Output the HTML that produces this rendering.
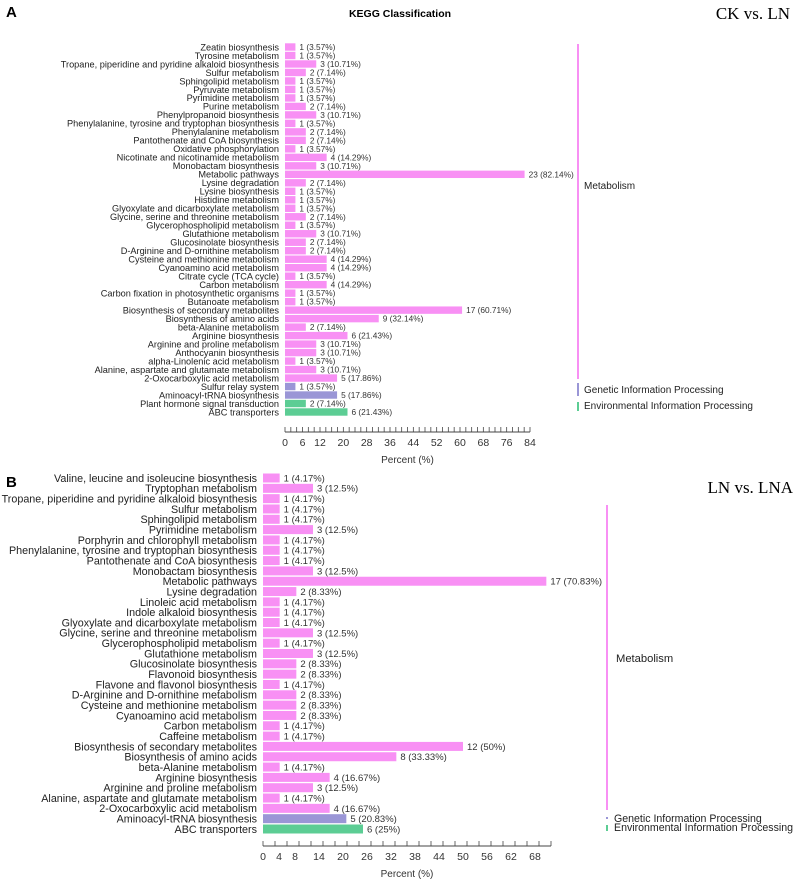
<!DOCTYPE html>
<html><head><meta charset="utf-8"><style>
body{margin:0;background:#fff}
svg{display:block;font-family:"Liberation Sans",sans-serif}
</style></head><body>
<svg id="c" width="796" height="885" viewBox="0 0 796 885">
<text x="6" y="17" font-size="15" font-weight="bold">A</text>
<text x="400" y="17" font-size="10.5" font-weight="bold" text-anchor="middle">KEGG Classification</text>
<text x="790" y="19" font-size="17" font-family="Liberation Serif,serif" text-anchor="end">CK vs. LN</text>
<text x="6" y="487" font-size="15" font-weight="bold">B</text>
<text x="793" y="493" font-size="17" font-family="Liberation Serif,serif" text-anchor="end">LN vs. LNA</text>
</svg>
<script>
const catsA=["Zeatin biosynthesis","Tyrosine metabolism","Tropane, piperidine and pyridine alkaloid biosynthesis","Sulfur metabolism","Sphingolipid metabolism","Pyruvate metabolism","Pyrimidine metabolism","Purine metabolism","Phenylpropanoid biosynthesis","Phenylalanine, tyrosine and tryptophan biosynthesis","Phenylalanine metabolism","Pantothenate and CoA biosynthesis","Oxidative phosphorylation","Nicotinate and nicotinamide metabolism","Monobactam biosynthesis","Metabolic pathways","Lysine degradation","Lysine biosynthesis","Histidine metabolism","Glyoxylate and dicarboxylate metabolism","Glycine, serine and threonine metabolism","Glycerophospholipid metabolism","Glutathione metabolism","Glucosinolate biosynthesis","D-Arginine and D-ornithine metabolism","Cysteine and methionine metabolism","Cyanoamino acid metabolism","Citrate cycle (TCA cycle)","Carbon metabolism","Carbon fixation in photosynthetic organisms","Butanoate metabolism","Biosynthesis of secondary metabolites","Biosynthesis of amino acids","beta-Alanine metabolism","Arginine biosynthesis","Arginine and proline metabolism","Anthocyanin biosynthesis","alpha-Linolenic acid metabolism","Alanine, aspartate and glutamate metabolism","2-Oxocarboxylic acid metabolism","Sulfur relay system","Aminoacyl-tRNA biosynthesis","Plant hormone signal transduction","ABC transporters"];
const countsA=[1,1,3,2,1,1,1,2,3,1,2,2,1,4,3,23,2,1,1,1,2,1,3,2,2,4,4,1,4,1,1,17,9,2,6,3,3,1,3,5,1,5,2,6];
const groupsA=["M","M","M","M","M","M","M","M","M","M","M","M","M","M","M","M","M","M","M","M","M","M","M","M","M","M","M","M","M","M","M","M","M","M","M","M","M","M","M","M","G","G","E","E"];
const totalA=28;
const ticksA=[0,6,12,20,28,36,44,52,60,68,76,84];

const catsB=["Valine, leucine and isoleucine biosynthesis","Tryptophan metabolism","Tropane, piperidine and pyridine alkaloid biosynthesis","Sulfur metabolism","Sphingolipid metabolism","Pyrimidine metabolism","Porphyrin and chlorophyll metabolism","Phenylalanine, tyrosine and tryptophan biosynthesis","Pantothenate and CoA biosynthesis","Monobactam biosynthesis","Metabolic pathways","Lysine degradation","Linoleic acid metabolism","Indole alkaloid biosynthesis","Glyoxylate and dicarboxylate metabolism","Glycine, serine and threonine metabolism","Glycerophospholipid metabolism","Glutathione metabolism","Glucosinolate biosynthesis","Flavonoid biosynthesis","Flavone and flavonol biosynthesis","D-Arginine and D-ornithine metabolism","Cysteine and methionine metabolism","Cyanoamino acid metabolism","Carbon metabolism","Caffeine metabolism","Biosynthesis of secondary metabolites","Biosynthesis of amino acids","beta-Alanine metabolism","Arginine biosynthesis","Arginine and proline metabolism","Alanine, aspartate and glutamate metabolism","2-Oxocarboxylic acid metabolism","Aminoacyl-tRNA biosynthesis","ABC transporters"];
const countsB=[1,3,1,1,1,3,1,1,1,3,17,2,1,1,1,3,1,3,2,2,1,2,2,2,1,1,12,8,1,4,3,1,4,5,6];
const groupsB=["M","M","M","M","M","M","M","M","M","M","M","M","M","M","M","M","M","M","M","M","M","M","M","M","M","M","M","M","M","M","M","M","M","G","E"];
const totalB=24;
const ticksB=[0,4,8,14,20,26,32,38,44,50,56,62,68];

const colors={M:"#f890f4",G:"#9a96d6",E:"#5ccd94"};
const NS="http://www.w3.org/2000/svg";
const svg=document.getElementById('c');
function mk(tag,attrs,parent){const e=document.createElementNS(NS,tag);for(const k in attrs)e.setAttribute(k,attrs[k]);(parent||svg).appendChild(e);return e;}
function fmt(p){return (Math.round(p*100)/100).toString();}

function panel(cfg){
  const g=mk('g',{});
  
  
  const x=v=>cfg.x0+v*cfg.sx;
  const y=i=>cfg.y0+i*cfg.dy;
  cfg.cats.forEach((c,i)=>{
    const p=cfg.counts[i]/cfg.total*100;
    const t=mk('text',{x:cfg.x0-6,y:y(i)+cfg.fs*0.36,'font-size':cfg.fs,'text-anchor':'end',fill:'#222'},g);
    t.textContent=c;
    
    
    const r=mk('rect',{x:x(0),y:y(i)-cfg.bh/2,width:x(p)-x(0),height:cfg.bh,fill:colors[cfg.groups[i]]},g);
    
    
    const v=mk('text',{x:x(p)+4,y:y(i)+cfg.vfs*0.36,'font-size':cfg.vfs,fill:'#333'},g);
    v.textContent=cfg.counts[i]+" ("+fmt(p)+"%)";
    
    
  });
  const ay=cfg.axisY;
  const ax=mk('line',{x1:x(0),x2:x(cfg.axMax),y1:ay,y2:ay,stroke:'#444','stroke-width':1},g);
  
  
  for(let v=0;v<=cfg.axMax+0.001;v+=cfg.minor){
    mk('line',{x1:x(v),x2:x(v),y1:ay,y2:ay-5,stroke:'#444','stroke-width':0.8},g);
  }
  cfg.ticks.forEach(v=>{
    const t=mk('text',{x:x(v),y:ay+14,'font-size':10.5,'text-anchor':'middle',fill:'#333'},g);
    t.textContent=v;
    
    
  });
  const at=mk('text',{x:x(cfg.axMax/2),y:ay+31,'font-size':10,'text-anchor':'middle',fill:'#333'},g);
  at.textContent="Percent (%)";
  
  
  cfg.brackets.forEach(b=>{
    const l=mk('rect',{x:cfg.bx-1,y:b.y1,width:2,height:b.y2-b.y1,fill:colors[b.g]},g);
    
    
    const t=mk('text',{x:cfg.bx+b.dx,y:b.ty,'font-size':b.fs,fill:'#222'},g);
    t.textContent=b.label;
    
    
  });
}

panel({name:'panel-a-chart',cats:catsA,counts:countsA,groups:groupsA,total:totalA,ticks:ticksA,
  x0:285,sx:245/84,y0:47,dy:(412-47)/43,bh:7.4,fs:9.2,vfs:8.3,axisY:432,axMax:84,minor:2,bx:578,
  brackets:[{g:'M',y1:44,y2:379,ty:189,label:'Metabolism',dx:6,fs:10},
            {g:'G',y1:383,y2:396,ty:393,label:'Genetic Information Processing',dx:6,fs:10},
            {g:'E',y1:402,y2:411,ty:409,label:'Environmental Information Processing',dx:6,fs:10}]});

panel({name:'panel-b-chart',cats:catsB,counts:countsB,groups:groupsB,total:totalB,ticks:ticksB,
  x0:263,sx:4,y0:478,dy:(829-478)/34,bh:9,fs:10.75,vfs:9.5,axisY:846,axMax:72,minor:3,bx:607,
  brackets:[{g:'M',y1:505,y2:810,ty:662,label:'Metabolism',dx:9,fs:11.2},
            {g:'G',y1:817,y2:819,ty:822,label:'Genetic Information Processing',dx:7,fs:10.6},
            {g:'E',y1:825,y2:831,ty:831,label:'Environmental Information Processing',dx:7,fs:10.6}]});
</script>
</body></html>
